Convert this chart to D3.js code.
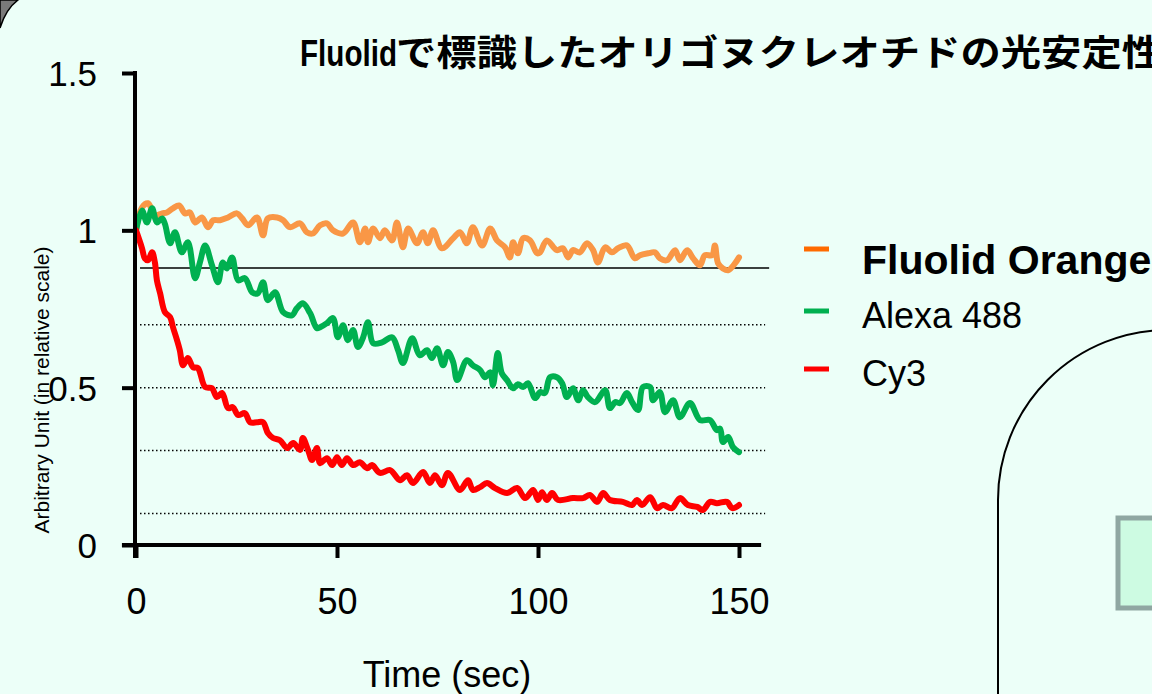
<!DOCTYPE html>
<html lang="ja">
  <head>
    <meta charset="UTF-8" />
    <title>Fluolid photostability</title>
    <script src="https://d3js.org/d3.v7.min.js"></script>
    <style>
      html, body {
        margin: 0;
        padding: 0;
        background: #ecfff8;
        overflow: hidden;
      }
      svg text {
        font-family: 'Liberation Sans', Arial, sans-serif;
        fill: #000;
      }
      .axis path { display: none; }
      .axis line { stroke: #000; stroke-width: 4; }
      .series {
        fill: none;
        stroke-width: 6;
        stroke-linecap: round;
        stroke-linejoin: round;
      }
    </style>
  </head>
  <body>
    <div id="chart"></div>
    <script>
      // series names + colours (legend marker / line)
      const seriesNames = ['Fluolid Orange', 'Alexa 488', 'Cy3'];
      const markerColors = ['#ff6a00', '#00b050', '#ff0000'];
      const lineColors = ['#f99746', '#00b050', '#ff0000'];

      // Fluolid Orange: time (sec) / relative intensity
      const orangeT = [0, 1.5, 3, 4.7, 6.5, 7.7, 9.2, 10.7, 12.2, 13.4, 14.7, 16.4, 17.9, 19.2, 20.9, 22.9,
        25.1, 26.4, 27.9, 30.1, 31.6, 32.8, 35.1, 36.6, 38.3, 40.8, 42.5, 44, 45.8, 47.5, 49, 51.5,
        54, 55.7, 57, 57.7, 59, 60.7, 61.9, 63.7, 64.9, 66.4, 67.7, 69.9, 71.4, 72.6, 73.9, 76.1,
        78.9, 80.6, 82.3, 83.8, 86.1, 88.1, 89.8, 91.8, 93, 93.8, 95, 96.3, 98, 99.8, 100.5, 102.2,
        104.7, 106.2, 107.5, 108.7, 110.4, 112.2, 113.7, 114.9, 116.7, 118.4, 119.9, 122.1, 124.1,
        125.4, 127.4, 129.1, 130.3, 132.1, 134.1, 135.3, 137.1, 138.6, 140.3, 141.5, 143.3, 144,
        144.8, 146, 147.3, 149, 150];
      const orangeV = [1.0, 1.073, 1.086, 1.048, 1.054, 1.057, 1.07, 1.079, 1.054, 1.057, 1.025, 1.041,
        1.01, 1.032, 1.032, 1.041, 1.054, 1.038, 1.016, 1.041, 0.984, 1.038, 1.041, 1.032, 1.01, 1.022,
        0.994, 0.99, 1.016, 1.022, 1.0, 0.99, 1.025, 0.962, 1.006, 0.962, 1.006, 0.975, 1.0, 0.968,
        1.025, 0.946, 1.006, 0.959, 0.994, 0.959, 1.0, 0.943, 0.975, 0.994, 0.959, 1.01, 0.952, 1.006,
        0.968, 0.946, 0.914, 0.962, 0.927, 0.975, 0.968, 0.927, 0.93, 0.968, 0.937, 0.943, 0.914,
        0.937, 0.93, 0.959, 0.937, 0.898, 0.946, 0.93, 0.943, 0.952, 0.911, 0.921, 0.927, 0.93, 0.911,
        0.905, 0.937, 0.905, 0.937, 0.911, 0.889, 0.921, 0.921, 0.952, 0.895, 0.879, 0.873, 0.895, 0.914];

      // Alexa 488
      const greenT = [0, 1.5, 2.7, 4, 5.2, 6.5, 7.2, 8.5, 9.7, 11.4, 12.9, 14.7, 15.9, 17.2, 18.9, 20.4,
        21.6, 22.6, 23.9, 25.4, 27.1, 28.9, 30.3, 31.6, 32.8, 34.6, 36.6, 38.8, 40, 41.5, 43.3, 45,
        45.8, 47.5, 49, 50.2, 51.5, 52.7, 54, 55.2, 56.5, 57.7, 59, 61.2, 63.7, 65.2, 66.4, 68.7,
        70.6, 72.4, 73.6, 74.9, 76.4, 77.6, 78.9, 79.9, 82.3, 83.8, 85.6, 86.8, 88.1, 88.8, 90, 91,
        92.3, 93.8, 95, 96.3, 97.5, 99.3, 100.5, 101.7, 103, 104.7, 106, 107.2, 108.7, 110, 111.2,
        112.4, 114.2, 116.7, 117.9, 119.2, 120.4, 122.1, 123.4, 124.9, 126.1, 127.9, 128.6, 130.3,
        131.6, 133.6, 135.3, 137.8, 140.3, 142.8, 144.5, 145.3, 146, 147.3, 148.5, 150];
      const greenV = [1.0, 1.063, 1.025, 1.07, 1.025, 1.038, 1.02, 0.959, 0.994, 0.93, 0.962, 0.848,
        0.898, 0.952, 0.889, 0.835, 0.898, 0.879, 0.914, 0.841, 0.848, 0.803, 0.8, 0.835, 0.778,
        0.803, 0.74, 0.73, 0.752, 0.768, 0.737, 0.689, 0.692, 0.705, 0.721, 0.66, 0.698, 0.651,
        0.683, 0.629, 0.66, 0.708, 0.641, 0.644, 0.66, 0.619, 0.578, 0.657, 0.603, 0.619, 0.594,
        0.625, 0.571, 0.613, 0.581, 0.524, 0.587, 0.571, 0.556, 0.533, 0.549, 0.508, 0.61, 0.546,
        0.524, 0.498, 0.511, 0.502, 0.514, 0.467, 0.486, 0.483, 0.533, 0.533, 0.514, 0.47, 0.498,
        0.46, 0.492, 0.47, 0.454, 0.492, 0.435, 0.454, 0.451, 0.483, 0.454, 0.429, 0.502, 0.502,
        0.46, 0.486, 0.422, 0.46, 0.406, 0.451, 0.397, 0.397, 0.365, 0.37, 0.327, 0.343, 0.311, 0.295];

      // Cy3
      const redT = [0, 1.5, 2.2, 3, 4, 4.7, 5.2, 6, 7.2, 8.5, 9.2, 10.2, 10.9, 11.7, 12.9, 14.2, 15.4,
        17.2, 18.9, 20.1, 21.4, 22.9, 24.1, 25.4, 27.1, 28.4, 30.1, 31.6, 32.8, 34.1, 35.8, 37.6,
        39.1, 40.8, 41.5, 42.8, 43.8, 45, 45.8, 47.5, 48.8, 50, 51.2, 52.5, 54, 55.7, 57.5, 58.7,
        60.7, 63.2, 65.7, 67.4, 68.9, 71.4, 73.1, 74.4, 76.1, 77.6, 80.6, 82.6, 83.8, 85.6, 87.3,
        89.3, 92.3, 94.8, 96.8, 98.8, 100, 101, 102.2, 103.5, 105, 108.7, 111.2, 112.9, 114.7,
        116.2, 117.9, 121.1, 123.4, 124.6, 125.9, 127.9, 129.6, 131.1, 133.3, 135.3, 137.3, 139.6,
        141, 142.8, 144.5, 147, 148.3, 150];
      const redV = [1.0, 0.943, 0.911, 0.905, 0.93, 0.898, 0.841, 0.8, 0.74, 0.724, 0.692, 0.651, 0.619,
        0.571, 0.594, 0.565, 0.562, 0.502, 0.498, 0.47, 0.483, 0.435, 0.438, 0.413, 0.419, 0.39, 0.39,
        0.39, 0.356, 0.34, 0.333, 0.308, 0.324, 0.302, 0.34, 0.302, 0.27, 0.308, 0.26, 0.276, 0.254,
        0.279, 0.254, 0.276, 0.254, 0.263, 0.244, 0.254, 0.229, 0.238, 0.206, 0.222, 0.197, 0.232,
        0.197, 0.222, 0.19, 0.229, 0.175, 0.206, 0.175, 0.184, 0.197, 0.181, 0.165, 0.181, 0.149,
        0.175, 0.143, 0.168, 0.143, 0.165, 0.143, 0.149, 0.149, 0.159, 0.137, 0.165, 0.143, 0.137,
        0.127, 0.143, 0.127, 0.152, 0.117, 0.127, 0.117, 0.149, 0.127, 0.121, 0.111, 0.137, 0.133,
        0.137, 0.117, 0.127];

      // axis ticks and reference levels
      const xTicks = [0, 50, 100, 150];
      const yTicks = [0, 0.5, 1, 1.5];
      const solidLevel = 0.88;
      const dottedLevels = [0.7, 0.5, 0.3, 0.1];

      const W = 1152, H = 694;
      const svg = d3.select('#chart').append('svg')
        .attr('width', W).attr('height', H);

      // page background + decorative shapes of the slide
      svg.append('rect').attr('width', W).attr('height', H).attr('fill', '#ecfff8');
      svg.append('path')
        .attr('d', 'M0,0 L18,0 Q6,9 0,28 Z')
        .attr('fill', '#7a7a7a').attr('stroke', '#000').attr('stroke-width', 1.5);
      svg.append('path')
        .attr('d', 'M998,700 L998,500 A170,170 0 0 1 1168,330')
        .attr('fill', 'none').attr('stroke', '#000').attr('stroke-width', 2);
      svg.append('rect')
        .attr('x', 1118).attr('y', 518).attr('width', 60).attr('height', 90)
        .attr('fill', '#cdfbe2').attr('stroke', '#8fa7a2').attr('stroke-width', 5);

      const x = d3.scaleLinear().domain([0, 150]).range([136, 739]);
      const y = d3.scaleLinear().domain([0, 1.5]).range([545, 73]);

      // reference lines
      svg.append('line')
        .attr('x1', x(1)).attr('x2', x(157.5))
        .attr('y1', y(solidLevel)).attr('y2', y(solidLevel))
        .attr('stroke', '#000').attr('stroke-width', 1.5);
      svg.selectAll('line.dot')
        .data(dottedLevels)
        .join('line')
        .attr('class', 'dot')
        .attr('x1', x(1)).attr('x2', x(156.5))
        .attr('y1', (d) => y(d)).attr('y2', (d) => y(d))
        .attr('stroke', '#000').attr('stroke-width', 1.5)
        .attr('stroke-dasharray', '1.5,2.5');

      // data lines
      const series = [
        { t: orangeT, v: orangeV },
        { t: greenT, v: greenV },
        { t: redT, v: redV },
      ];
      const line = d3.line()
        .x((d) => x(d[0]))
        .y((d) => y(d[1]))
        .curve(d3.curveCatmullRom.alpha(0.5));
      svg.selectAll('path.series')
        .data(series)
        .join('path')
        .attr('class', 'series')
        .attr('stroke', (d, i) => lineColors[i])
        .attr('d', (d) => line(d.t.map((t, k) => [t, d.v[k]])));

      // axes
      const yAxis = svg.append('g')
        .attr('class', 'axis')
        .attr('transform', `translate(${x(0) - 1},0)`)
        .call(d3.axisLeft(y).tickValues(yTicks).tickSize(13).tickPadding(25)
          .tickFormat((d) => String(d)));
      yAxis.selectAll('text').style('font-size', '35px').attr('dy', '0.36em');
      yAxis.append('line')
        .attr('x1', 0).attr('x2', 0)
        .attr('y1', y(1.5) - 2).attr('y2', y(0) + 13);

      const xAxis = svg.append('g')
        .attr('class', 'axis')
        .attr('transform', `translate(0,${y(0)})`)
        .call(d3.axisBottom(x).tickValues(xTicks).tickSize(13).tickPadding(30));
      xAxis.selectAll('text').style('font-size', '36px');
      xAxis.append('line')
        .attr('x1', x(-3.5)).attr('x2', x(155.5))
        .attr('y1', 0).attr('y2', 0);

      // axis titles
      svg.append('text')
        .attr('x', 447).attr('y', 687)
        .attr('text-anchor', 'middle')
        .style('font-size', '36px')
        .text('Time (sec)');
      svg.append('text')
        .attr('transform', 'translate(49,390) rotate(-90)')
        .attr('text-anchor', 'middle')
        .style('font-size', '21px')
        .text('Arbitrary Unit (in relative scale)');

      // title (latin part squeezed, CJK part widened, as on the slide)
      svg.append('text')
        .attr('transform', 'translate(300,66) scale(0.8,1)')
        .style('font-size', '37px').style('font-weight', 'bold')
        .text('Fluolid');
      svg.append('text')
        .attr('transform', 'translate(396,66) scale(1.12,1)')
        .style('font-family', "'Noto Sans CJK JP', sans-serif")
        .style('font-size', '36px').style('font-weight', 'bold')
        .text('で標識したオリゴヌクレオチドの光安定性');

      // legend
      const legendY = [249, 311, 369];
      const legendBase = [274, 328, 386];
      const legend = svg.selectAll('g.legend')
        .data(seriesNames)
        .join('g')
        .attr('class', 'legend')
        .attr('transform', (d, i) => `translate(804,${legendY[i]})`);
      legend.append('line')
        .attr('x1', 0).attr('x2', 25)
        .attr('stroke', (d, i) => markerColors[i])
        .attr('stroke-width', 5);
      legend.append('text')
        .attr('x', 58).attr('y', (d, i) => legendBase[i] - legendY[i])
        .style('font-size', (d, i) => (i === 0 ? '41px' : '36px'))
        .style('font-weight', (d, i) => (i === 0 ? 'bold' : 'normal'))
        .text((d) => d);
    </script>
  </body>
</html>
